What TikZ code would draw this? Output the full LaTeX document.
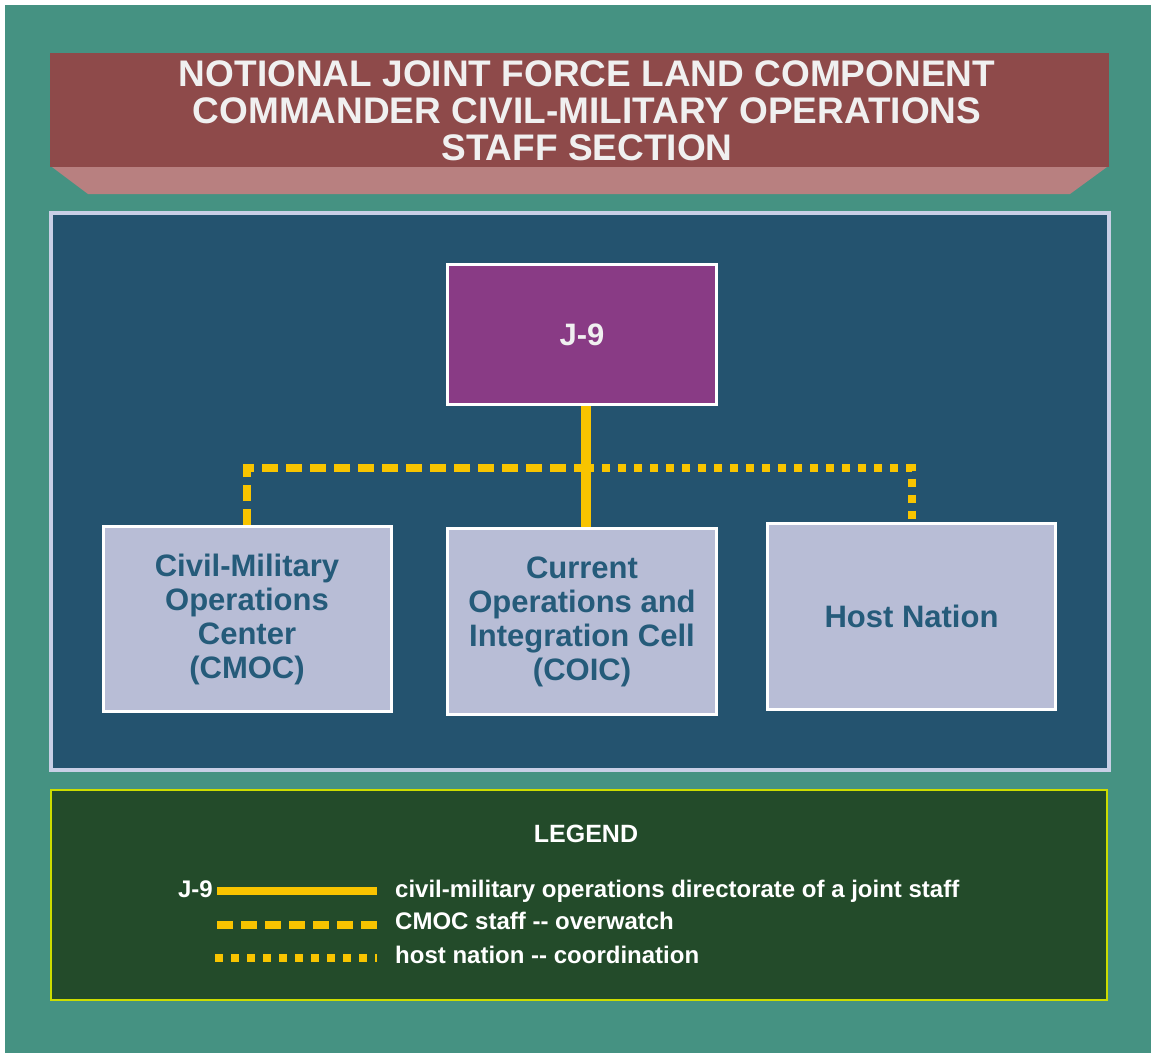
\documentclass[tikz,border=0pt]{standalone}
\usepackage{fontspec}
\setmainfont{Liberation Sans}
\usetikzlibrary{calc}
\definecolor{bgteal}{HTML}{459282}
\definecolor{banner}{HTML}{8E4A4A}
\definecolor{bevel}{HTML}{B88080}
\definecolor{panel}{HTML}{24536F}
\definecolor{panelborder}{HTML}{C8CFE6}
\definecolor{jpurple}{HTML}{893B85}
\definecolor{boxfill}{HTML}{B8BDD6}
\definecolor{boxtext}{HTML}{255B7A}
\definecolor{gold}{HTML}{F8C400}
\definecolor{legendgreen}{HTML}{234B2A}
\definecolor{legendborder}{HTML}{CCDD00}
\definecolor{lighttext}{HTML}{F0F0F0}
\pgfdeclarelayer{back}
\pgfdeclarelayer{mid}
\pgfsetlayers{back,mid,main}
\begin{document}
\begin{tikzpicture}[x=1pt,y=-1pt,
  orgbox/.style={draw=white, line width=3pt, fill=boxfill, inner sep=2pt, align=center,
    text=boxtext, font=\bfseries\fontsize{31}{34}\selectfont},
  j9line/.style={draw=gold, line width=10pt},
  overwatch/.style={draw=gold, line width=8pt, dash pattern=on 16pt off 8pt},
  coordline/.style={draw=gold, line width=8pt, dash pattern=on 8pt off 8pt},
  legendtext/.style={text=white, inner sep=0pt, font=\bfseries\fontsize{24}{28}\selectfont}]
\useasboundingbox (0,0) rectangle (1151,1053);
\begin{pgfonlayer}{back}
  \fill[white] (0,0) rectangle (1151,1053);
  \fill[bgteal] (5,5) rectangle (1151,1053);
  \fill[banner] (50,53) rectangle (1109,167);
  \fill[bevel] (52,167) -- (1107,167) -- (1070,194) -- (88,194) -- cycle;
  \draw[panelborder, line width=4pt, fill=panel] (51,213) rectangle (1109,769.5);
  \draw[legendborder, line width=1.5pt, fill=legendgreen] (51,790) rectangle (1107,1000);
\end{pgfonlayer}
\node[text=lighttext, align=center, inner sep=0pt, font=\bfseries\fontsize{37}{37}\selectfont] (title) at (587,110.5)
  {NOTIONAL JOINT FORCE LAND COMPONENT\\COMMANDER CIVIL-MILITARY OPERATIONS\\STAFF SECTION};
\node[orgbox, fill=jpurple, text=lighttext, minimum width=269pt, minimum height=140pt] (j9) at (582,334.5) {J-9};
\node[orgbox, minimum width=288pt, minimum height=185pt] (cmoc) at (247,619) {Civil-Military\\Operations\\Center\\(CMOC)};
\node[orgbox, minimum width=269pt, minimum height=186pt] (coic) at (582,621.5) {Current\\Operations and\\Integration Cell\\(COIC)};
\node[orgbox, minimum width=288pt, minimum height=186pt] (host) at (911.5,616.5) {Host Nation};
\coordinate (jn) at (586,468);
\begin{pgfonlayer}{mid}
  \draw[j9line] (j9.south -| jn) -- (coic.north -| jn);
  \draw[overwatch] (cmoc.north) |- (jn);
  \draw[coordline] (jn) -| (host.north);
\end{pgfonlayer}
% legend
\node[legendtext, anchor=base, font=\bfseries\fontsize{25}{28}\selectfont] (legendtitle) at (586,842) {LEGEND};
\node[legendtext, anchor=base east] (lj9) at (213,897) {J-9};
\coordinate (l1a) at (217,891);
\coordinate (l1b) at (377,891);
\coordinate (l2a) at (217,925);
\coordinate (l2b) at (377,925);
\coordinate (l3a) at (215,958);
\coordinate (l3b) at (377,958);
\draw[j9line, line width=8pt] (l1a) -- (l1b);
\draw[overwatch] (l2a) -- (l2b);
\draw[coordline] (l3a) -- (l3b);
\node[legendtext, anchor=base west] (t1) at (395,897) {civil-military operations directorate of a joint staff};
\node[legendtext, anchor=base west] (t2) at (395,929) {CMOC staff -\kern0pt- overwatch};
\node[legendtext, anchor=base west] (t3) at (395,963) {host nation -\kern0pt- coordination};
\end{tikzpicture}
\end{document}
